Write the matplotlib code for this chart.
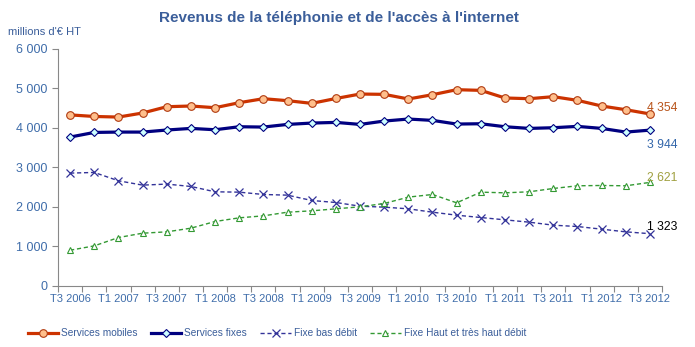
import numpy as np
import matplotlib
matplotlib.use("Agg")
import matplotlib.pyplot as plt
from matplotlib.ticker import FuncFormatter

plt.rcParams['font.family'] = ['Liberation Sans', 'DejaVu Sans']

# Trimestres T3 2006 -> T3 2012
trimestres = []
for annee in range(2006, 2013):
    for t in (1, 2, 3, 4):
        if (annee == 2006 and t < 3) or (annee == 2012 and t > 3):
            continue
        trimestres.append(f"T{t} {annee}")

mobiles = [4330, 4290, 4275, 4378, 4537, 4555, 4512, 4639, 4740, 4690, 4622, 4745,
           4858, 4850, 4733, 4841, 4968, 4951, 4758, 4740, 4791, 4698, 4555, 4461, 4354]
fixes = [3769, 3886, 3895, 3895, 3947, 3988, 3954, 4030, 4022, 4089, 4123, 4140,
         4089, 4174, 4225, 4191, 4098, 4106, 4030, 3988, 4005, 4039, 3988, 3895, 3944]
bas_debit = [2856, 2873, 2662, 2552, 2578, 2518, 2383, 2374, 2315, 2298, 2163, 2112,
             2019, 1994, 1952, 1867, 1791, 1732, 1673, 1614, 1538, 1504, 1437, 1369, 1323]
haut_debit = [904, 1014, 1225, 1335, 1369, 1462, 1631, 1724, 1774, 1867, 1901, 1952,
              2003, 2087, 2248, 2315, 2104, 2374, 2357, 2383, 2467, 2535, 2543, 2535, 2621]

BLEU_TXT = "#3F6DAA"

fig = plt.figure(figsize=(6.95, 3.47), dpi=100)
ax = fig.add_axes([0.0835, 0.176, 0.869, 0.683])

x = np.arange(len(trimestres))

ax.plot(x, mobiles, color="#CC3300", lw=2.3, marker="o", ms=5.5,
        mfc="#FFBF8C", mec="#B03A10", mew=0.8, label="Services mobiles", zorder=4)
ax.plot(x, fixes, color="#000080", lw=2.3, marker="D", ms=4.3,
        mfc="#CCFFFF", mec="#000080", mew=0.8, label="Services fixes", zorder=4)
ax.plot(x, bas_debit, color="#333399", lw=1, ls=(0, (3, 2)), marker="x", ms=6,
        mec="#333399", mew=0.9, label="Fixe bas débit", zorder=3)
ax.plot(x, haut_debit, color="#339933", lw=1, ls=(0, (3, 2)), marker="^", ms=4,
        mfc="white", mec="#339933", mew=0.8, label="Fixe Haut et très haut débit", zorder=3)

# valeurs finales (décalage en points par rapport au dernier point)
etiquettes = [(mobiles[-1], "#B8531A", 4), (fixes[-1], "#3366AA", -11),
              (haut_debit[-1], "#A0A040", 3), (bas_debit[-1], "black", 5)]
for val, coul, dy in etiquettes:
    ax.annotate(f"{val:,}".replace(",", " "), (x[-1], val), xytext=(-2, dy),
                textcoords="offset points", color=coul, fontsize=8.7,
                ha="left", va="center")

ax.set_xlim(-0.5, len(trimestres) - 0.5)
ax.set_ylim(0, 6000)
ax.set_yticks(range(0, 6001, 1000))
ax.yaxis.set_major_formatter(FuncFormatter(lambda v, p: f"{int(v):,}".replace(",", " ")))

ax.set_xticks(np.arange(-0.5, len(trimestres), 1))
ax.set_xticklabels([])
ax.set_xticks(x[::2], minor=True)
ax.set_xticklabels(trimestres[::2], minor=True)
ax.tick_params(axis="x", which="major", length=4, color="#888888")
ax.tick_params(axis="x", which="minor", length=0, pad=6, labelsize=8, labelcolor=BLEU_TXT)
ax.tick_params(axis="y", length=4, color="#888888", labelsize=9, labelcolor=BLEU_TXT)

for s in ("top", "right"):
    ax.spines[s].set_visible(False)
for s in ("left", "bottom"):
    ax.spines[s].set_color("#888888")

fig.text(0.488, 0.948, "Revenus de la téléphonie et de l'accès à l'internet",
         ha="center", va="center", fontsize=11, fontweight="bold", color="#3B5E9A")
fig.text(0.012, 0.908, "millions d'€ HT", ha="left", va="center", fontsize=8, color="#3B5E9A")

leg = fig.legend(loc="center left", bbox_to_anchor=(0.040, 0.04), ncol=4, frameon=False,
                 fontsize=7.3, handlelength=3.0, columnspacing=1.3, handletextpad=0.3,
                 borderpad=0, borderaxespad=0)
for t in leg.get_texts():
    t.set_color("#3B5E9A")

fig.savefig("out.png", dpi=100)
